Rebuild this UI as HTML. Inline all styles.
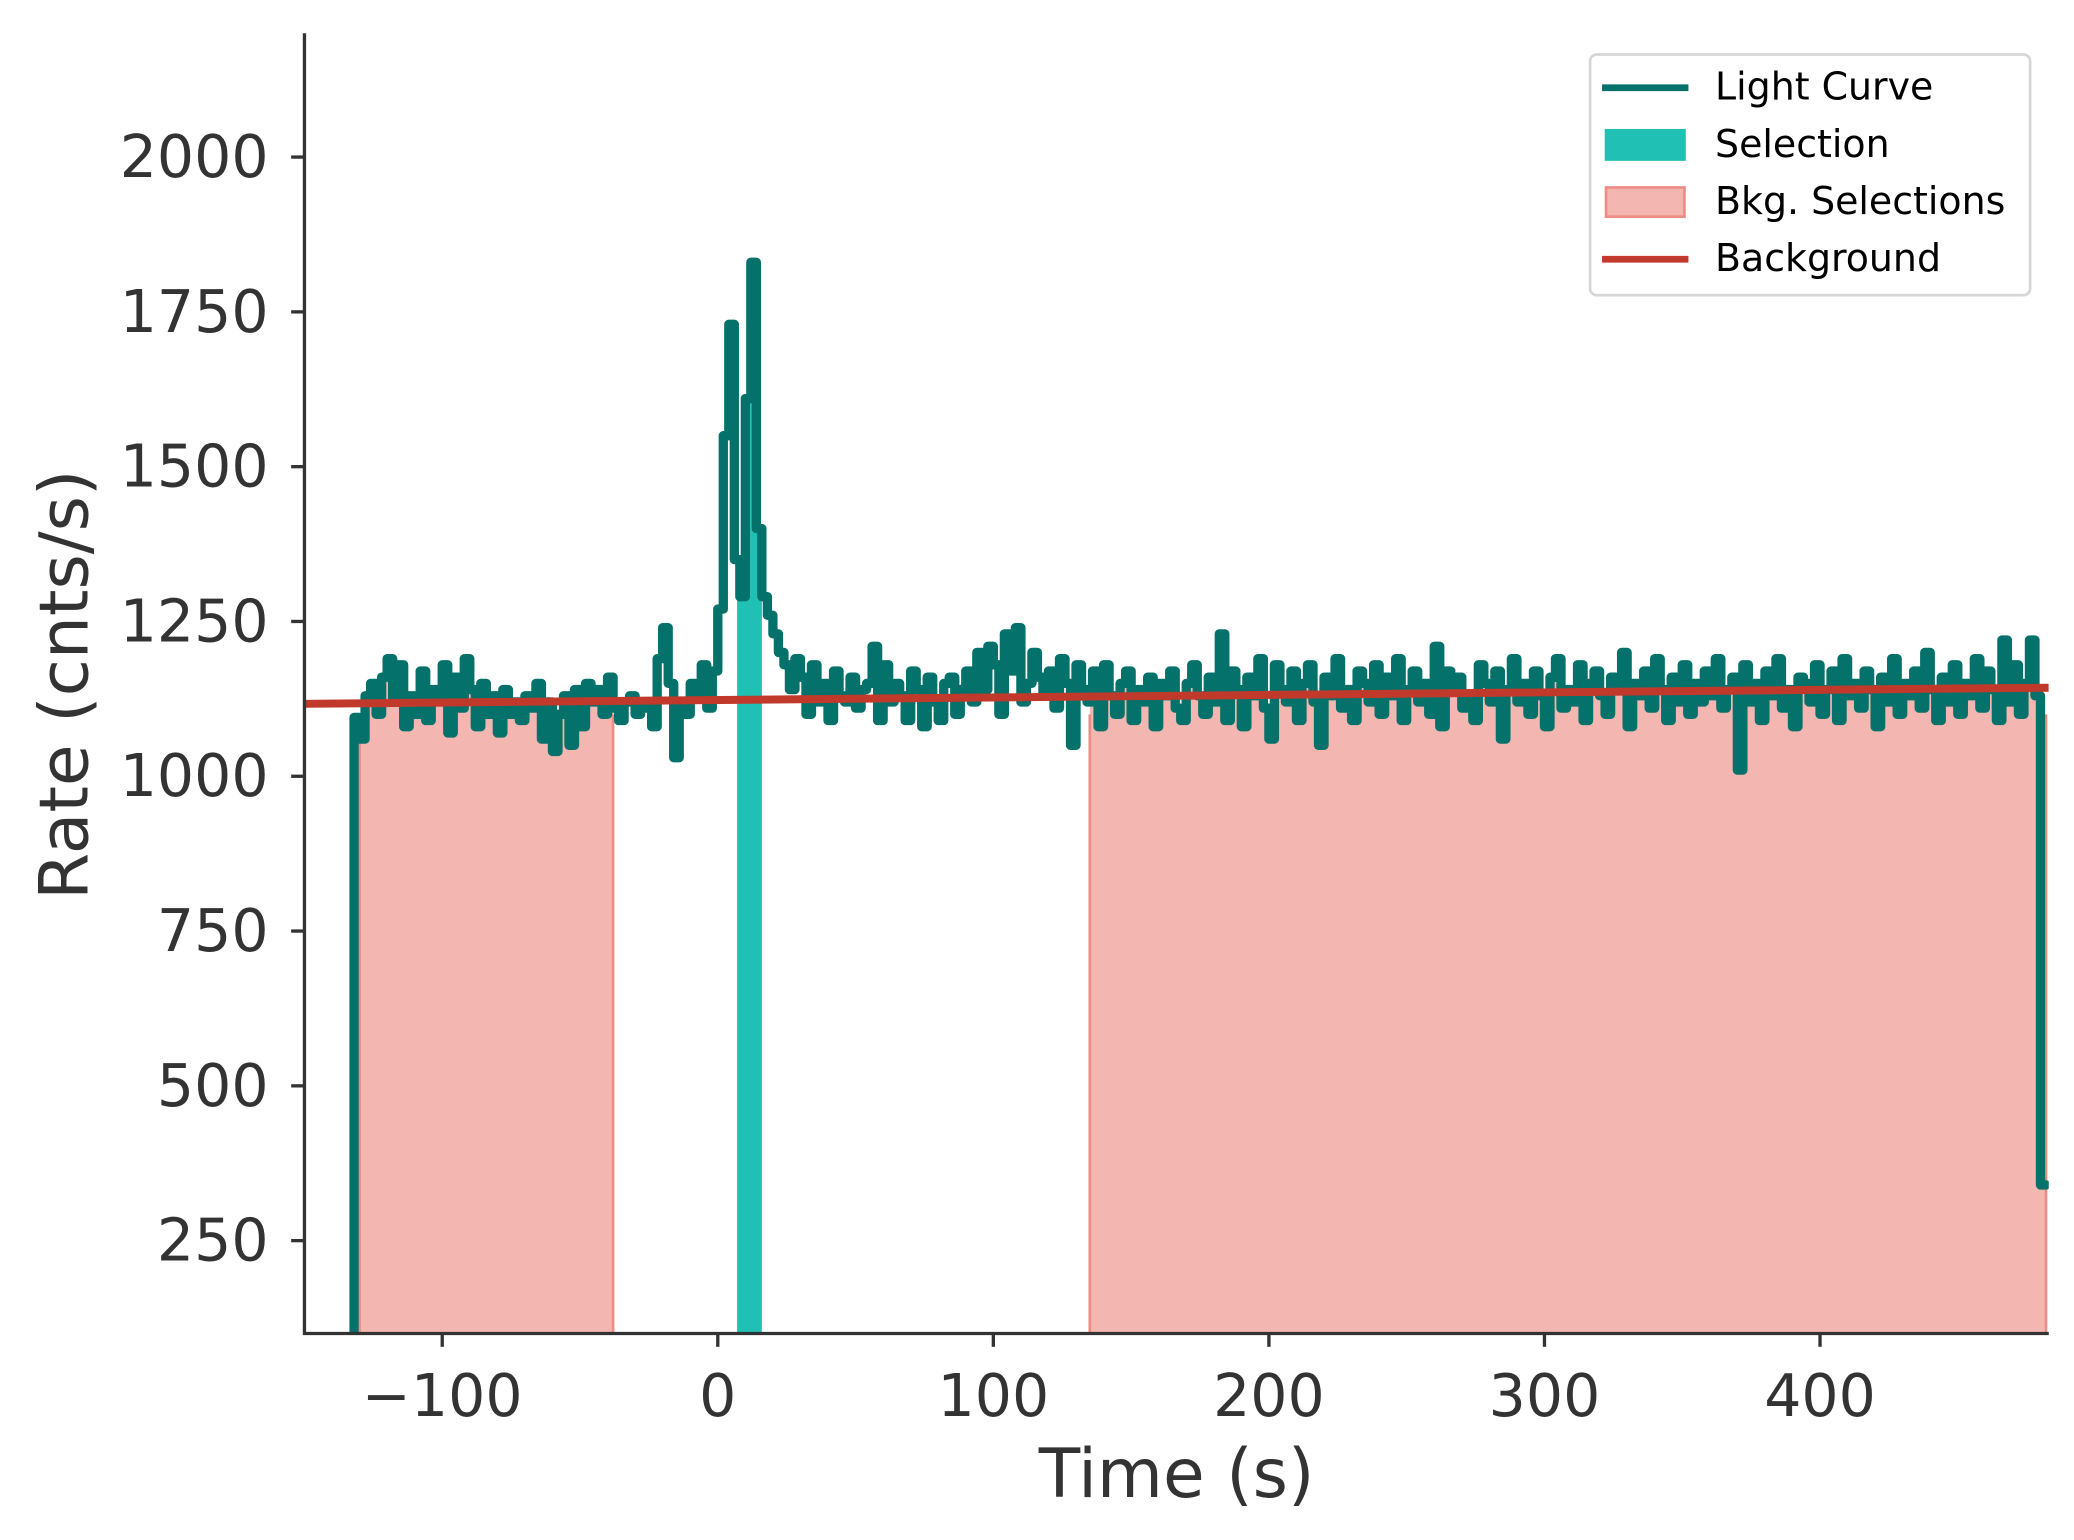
<!DOCTYPE html>
<html><head><meta charset="utf-8"><style>
html,body{margin:0;padding:0;background:#fff;}
svg{display:block;font-family:"DejaVu Sans","Liberation Sans",sans-serif;}
</style></head><body>
<svg id="chart" width="2074" height="1540" viewBox="0 0 1560 1158.3" preserveAspectRatio="none" xmlns="http://www.w3.org/2000/svg">
<defs>
<clipPath id="plotclip"><rect x="229" y="25" width="1312" height="978"/></clipPath>
<clipPath id="bkgclip"></clipPath>
<clipPath id="selclip"></clipPath>
</defs>
<g id="marks" clip-path="url(#plotclip)"></g>
<g id="axes"></g>
<g id="legend">
<rect x="1196" y="41" width="331" height="181" rx="5" fill="#fff" stroke="#d6d6d6" stroke-width="2"/>
<g>
<line x1="1205" y1="66" x2="1270" y2="66" stroke="#05716b" stroke-width="5"/>
<text x="1290" y="75" font-size="28.5" fill="#000">Light Curve</text></g>
<g>
<rect x="1207" y="97" width="61" height="24" fill="#20c0b5"/>
<text x="1290" y="118" font-size="28.5" fill="#000">Selection</text></g>
<g>
<rect x="1208" y="141" width="59" height="22" fill="#f4b6b0" stroke="#ed8c84" stroke-width="2"/>
<text x="1290" y="161" font-size="28.5" fill="#000">Bkg. Selections</text></g>
<g>
<line x1="1205" y1="195" x2="1270" y2="195" stroke="#c0392b" stroke-width="5"/>
<text x="1290" y="204" font-size="28.5" fill="#000">Background</text></g>
</g>
</svg>
<script>
const binStart = -132;
const binWidth = 2;
const rates = [
1095,1060,1130,1150,1100,1160,1190,1120,1180,1080,
1130,1100,1170,1090,1140,1120,1180,1070,1160,1110,
1190,1140,1080,1150,1100,1130,1070,1140,1100,1120,
1090,1130,1110,1150,1060,1120,1040,1100,1130,1050,
1140,1080,1150,1120,1140,1100,1160,1110,1090,1120,
1130,1100,1110,1120,1080,1190,1240,1150,1030,1120,
1100,1150,1130,1180,1110,1170,
1270,1550,1730,1350,1290,1610,1830,1400,1290,1260,1230,1200,1180,1140,1190,
1160,1100,1180,1120,1150,1090,1170,1130,1120,1160,
1110,1140,1150,1210,1090,1180,1120,1150,1130,1090,
1170,1140,1080,1160,1120,1090,1150,1160,1100,1140,
1170,1120,1200,1140,1210,1180,1100,1230,1170,1240,
1120,1150,1200,1160,1130,1170,1110,1190,1150,1050,
1180,1140,
1120,1170,1080,1180,1130,1100,1150,1170,1090,1140,
1120,1160,1080,1150,1130,1170,1110,1090,1150,1180,
1130,1100,1160,1120,1230,1090,1170,1140,1080,1160,
1130,1190,1110,1060,1180,1140,1120,1170,1090,1150,
1180,1120,1050,1160,1130,1190,1110,1140,1090,1170,
1150,1120,1180,1100,1160,1130,1190,1090,1140,1170,
1120,1150,1100,1210,1080,1170,1140,1160,1110,1130,
1090,1180,1150,1120,1170,1060,1140,1190,1120,1150,
1100,1170,1130,1080,1160,1190,1110,1140,1120,1180,
1090,1150,1170,1130,1100,1160,1140,1200,1080,1150,
1130,1170,1110,1190,1140,1090,1160,1120,1180,1100,
1150,1120,1170,1130,1190,1110,1140,1160,1010,1180,
1120,1150,1090,1170,1130,1190,1110,1140,1080,1160,
1150,1120,1180,1100,1140,1170,1090,1190,1130,1150,
1110,1170,1140,1080,1160,1120,1190,1100,1150,1130,
1170,1110,1200,1140,1090,1160,1120,1180,1100,1150,
1130,1190,1110,1170,1140,1090,1220,1120,1180,1100,
1150,1220,1130,340
];
const selectionRange = [7, 16];
const bkgRanges = [[-130, -38], [135, 482]];
const bkgLine = [[-150, 1117], [483, 1143]];
const xTicks = [-100, 0, 100, 200, 300, 400];
const xTickLabels = ["\u2212100", "0", "100", "200", "300", "400"];
const yTicks = [250, 500, 750, 1000, 1250, 1500, 1750, 2000];
const yTickLabels = ["250", "500", "750", "1000", "1250", "1500", "1750", "2000"];
const xDomain = [-150, 483];
const yDomain = [100, 2200];

const L = 229, R = 1541, T = 25, B = 1003;
const NS = "http://www.w3.org/2000/svg";
function xs(v){ return L + (v - xDomain[0]) / (xDomain[1] - xDomain[0]) * (R - L); }
function ys(v){ return B - (v - yDomain[0]) / (yDomain[1] - yDomain[0]) * (B - T); }
function mk(tag, attrs, parent){
  const e = document.createElementNS(NS, tag);
  for (const k in attrs) e.setAttribute(k, attrs[k]);
  parent.appendChild(e);
  return e;
}
const marks = document.getElementById('marks');
const axes = document.getElementById('axes');

let line = 'M' + xs(binStart) + ' ' + ys(yDomain[0]);
let area = 'M' + xs(binStart) + ' ' + ys(yDomain[0]);
for (let i = 0; i < rates.length; i++){
  const t0 = binStart + i * binWidth, t1 = t0 + binWidth;
  const seg = ' L' + xs(t0) + ' ' + ys(rates[i]) + ' L' + xs(t1) + ' ' + ys(rates[i]);
  line += seg; area += seg;
}
area += ' L' + xs(binStart + rates.length * binWidth) + ' ' + ys(yDomain[0]) + ' Z';

const bkgClip = document.getElementById('bkgclip');
bkgRanges.forEach(r => {
  mk('rect', {x: xs(r[0]), y: T, width: xs(r[1]) - xs(r[0]), height: B - T}, bkgClip);
});
const selClip = document.getElementById('selclip');
mk('rect', {x: xs(selectionRange[0]), y: T, width: xs(selectionRange[1]) - xs(selectionRange[0]), height: B - T}, selClip);

const bkgFill = mk('path', {d: area, fill: '#f4b6b0', 'clip-path': 'url(#bkgclip)'}, marks);


bkgRanges.forEach(r => {
  [r[0], r[1]].forEach(v => {
    const e = mk('line', {x1: xs(v), x2: xs(v), y1: B, y2: ys(1100), stroke: '#ed8c84', 'stroke-width': 2}, marks);
    
    
  });
});
const selFill = mk('path', {d: area, fill: '#20c0b5', 'clip-path': 'url(#selclip)'}, marks);



const lc = mk('path', {d: line, fill: 'none', stroke: '#05716b', 'stroke-width': 7, 'stroke-linejoin': 'round', 'stroke-linecap': 'round'}, marks);



const bl = mk('line', {x1: xs(bkgLine[0][0]), y1: ys(bkgLine[0][1]), x2: xs(bkgLine[1][0]), y2: ys(bkgLine[1][1]), stroke: '#c0392b', 'stroke-width': 6}, marks);



const sp1 = mk('line', {x1: L, y1: T, x2: L, y2: B + 1, stroke: '#333', 'stroke-width': 2.5}, axes);


const sp2 = mk('line', {x1: L - 1, y1: B, x2: R, y2: B, stroke: '#333', 'stroke-width': 2.5}, axes);



xTicks.forEach((v, i) => {
  const tk = mk('line', {x1: xs(v), x2: xs(v), y1: B, y2: B + 10, stroke: '#333', 'stroke-width': 2.5}, axes);
  
  
  const tx = mk('text', {x: xs(v), y: 1065, 'text-anchor': 'middle', 'font-size': 44, fill: '#333'}, axes);
  tx.textContent = xTickLabels[i];
  
  
});
yTicks.forEach((v, i) => {
  const tk = mk('line', {x1: L - 10, x2: L, y1: ys(v), y2: ys(v), stroke: '#333', 'stroke-width': 2.5}, axes);
  
  
  const tx = mk('text', {x: 202, y: ys(v) + 15, 'text-anchor': 'end', 'font-size': 44, fill: '#333'}, axes);
  tx.textContent = yTickLabels[i];
  
  
});
const xt = mk('text', {x: 885, y: 1126, 'text-anchor': 'middle', 'font-size': 51, fill: '#333'}, axes);
xt.textContent = 'Time (s)';


const yt = mk('text', {x: 0, y: 0, 'text-anchor': 'middle', 'font-size': 51, fill: '#333', transform: 'translate(66,515) rotate(-90)'}, axes);
yt.textContent = 'Rate (cnts/s)';


</script>
</body></html>
